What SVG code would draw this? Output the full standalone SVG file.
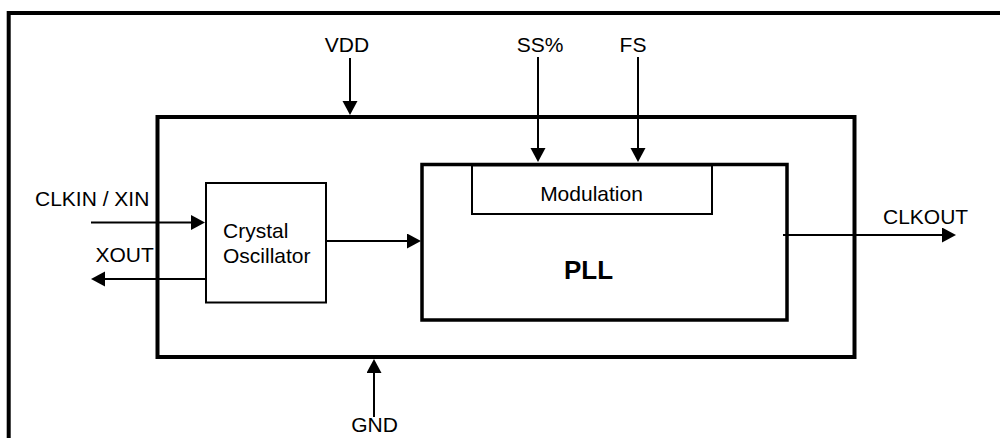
<svg xmlns="http://www.w3.org/2000/svg" width="1000" height="438" viewBox="0 0 1000 438">
<defs>
<marker id="ah" markerUnits="userSpaceOnUse" markerWidth="16" markerHeight="16" refX="2" refY="7.5" orient="auto">
<path d="M0,0 L14,7.5 L0,15 z" fill="#000"/>
</marker>
<style>
.t{font-family:"Liberation Sans",Arial,sans-serif;font-size:21px;fill:#000}
.b{font-family:"Liberation Sans",Arial,sans-serif;font-size:26px;font-weight:bold;fill:#000}
.box{fill:#fff;stroke:#000}
.c{fill:none;stroke:#000;stroke-width:2;marker-end:url(#ah)}
</style>
</defs>
<rect width="1000" height="438" fill="#fff"/>
<g id="frame">
<path d="M8.7,438 V13 H1000" fill="none" stroke="#000" stroke-width="4"/>
</g>
<g id="chip">
<rect class="box" x="157.5" y="117" width="697" height="240" stroke-width="4"/>
</g>
<g id="pll">
<rect class="box" x="422" y="164.5" width="365" height="155.5" stroke-width="3.5"/>
<text class="b" x="588.5" y="279" text-anchor="middle">PLL</text>
</g>
<g id="modulation">
<rect class="box" x="472" y="165.5" width="240" height="48.5" stroke-width="2"/>
<text class="t" x="591.5" y="201" text-anchor="middle">Modulation</text>
</g>
<g id="crystal">
<rect class="box" x="206" y="183" width="120" height="119.5" stroke-width="2"/>
<text class="t" x="223" y="238">Crystal</text>
<text class="t" x="223" y="263">Oscillator</text>
</g>
<g id="labels">
<text class="t" x="347" y="52" text-anchor="middle">VDD</text>
<text class="t" x="540" y="52" text-anchor="middle">SS%</text>
<text class="t" x="633" y="52" text-anchor="middle">FS</text>
<text class="t" x="374.5" y="432" text-anchor="middle">GND</text>
<text class="t" x="35" y="206">CLKIN / XIN</text>
<text class="t" x="95.5" y="262">XOUT</text>
<text class="t" x="883" y="224">CLKOUT</text>
</g>
<g id="connectors">
<line class="c" x1="350" y1="58" x2="350" y2="103"/>
<line class="c" x1="538" y1="57" x2="538" y2="150"/>
<line class="c" x1="638" y1="57" x2="638" y2="150"/>
<line class="c" x1="374" y1="417" x2="374" y2="371"/>
<line class="c" x1="91" y1="222.5" x2="193" y2="222.5"/>
<line class="c" x1="206" y1="279" x2="103" y2="279"/>
<line class="c" x1="326" y1="241" x2="409" y2="241"/>
<line class="c" x1="783" y1="235" x2="944" y2="235"/>
</g>
</svg>
